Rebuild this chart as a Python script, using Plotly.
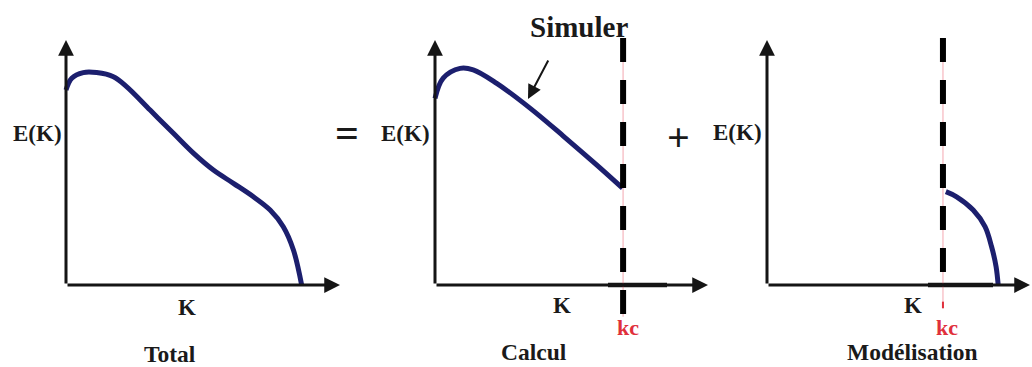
import plotly.graph_objects as go

# Spectre d'énergie E(K) : total = partie calculée (K < kc) + partie modélisée (K > kc)
# Unités arbitraires : l'extrémité de chaque axe vaut 10.

# Panneau "Total"
k_total = [0.0, 0.21, 0.63, 1.12, 1.73, 2.22, 3.07, 3.92, 4.65, 5.38, 6.11, 6.84, 7.45, 7.93, 8.30, 8.60]
e_total = [7.96, 8.44, 8.67, 8.67, 8.50, 8.09, 7.14, 6.19, 5.38, 4.69, 4.15, 3.60, 3.06, 2.38, 1.43, 0.0]

# Panneau "Calcul" (partie simulée, jusqu'à kc)
k_calcul = [0.0, 0.30, 0.92, 1.40, 2.26, 3.48, 4.70, 5.92, 6.87]
e_calcul = [7.62, 8.44, 8.84, 8.78, 8.23, 7.22, 6.08, 4.90, 3.95]
kc_calcul = 6.89

# Panneau "Modélisation" (au-delà de kc)
k_model = [6.80, 7.21, 7.84, 8.29, 8.54, 8.71, 8.79]
e_model = [3.81, 3.60, 3.06, 2.38, 1.56, 0.75, 0.0]
kc_model = 6.69

W, H = 1032, 367
CURVE = "#1c1f6e"
AXIS = "#151515"
TEXT = "#1a1a1a"
RED = "#e0303c"
SERIF = "Liberation Serif, Times New Roman, serif"

fig = go.Figure()
fig.add_trace(go.Scatter(x=k_total, y=e_total, xaxis="x", yaxis="y", mode="lines",
                         line=dict(color=CURVE, width=5, shape="spline", smoothing=1.0),
                         hoverinfo="skip"))
fig.add_trace(go.Scatter(x=k_calcul, y=e_calcul, xaxis="x2", yaxis="y2", mode="lines",
                         line=dict(color=CURVE, width=5, shape="spline", smoothing=1.0),
                         hoverinfo="skip"))
fig.add_trace(go.Scatter(x=k_model, y=e_model, xaxis="x3", yaxis="y3", mode="lines",
                         line=dict(color=CURVE, width=5, shape="spline", smoothing=1.0),
                         hoverinfo="skip"))

# placement des trois panneaux (pixels -> fraction de la page)
def dom(a, b):
    return [a / W, b / W]

y_range = [-82 / 24.5, 285 / 24.5]
hidden = dict(visible=False, fixedrange=True)
fig.update_layout(
    xaxis=dict(domain=dom(0, 350), range=[-66 / 27.4, 284 / 27.4], **hidden),
    xaxis2=dict(domain=dom(350, 712), range=[-85 / 27.3, 277 / 27.3], **hidden),
    xaxis3=dict(domain=dom(712, 1032), range=[-55 / 26.3, 265 / 26.3], **hidden),
    yaxis=dict(domain=[0, 1], range=y_range, anchor="x", **hidden),
    yaxis2=dict(domain=[0, 1], range=y_range, anchor="x2", **hidden),
    yaxis3=dict(domain=[0, 1], range=y_range, anchor="x3", **hidden),
)

annotations = []
# axes fléchés
for xa, ya in [("x", "y"), ("x2", "y2"), ("x3", "y3")]:
    for hx, hy in [(0, 10), (10, 0)]:
        annotations.append(dict(x=hx, y=hy, xref=xa, yref=ya, ax=0, ay=0, axref=xa, ayref=ya,
                                text="", showarrow=True, arrowhead=2, arrowsize=1.05,
                                arrowwidth=3, arrowcolor=AXIS, standoff=0, startstandoff=0))

shapes = []
# segments plus épais de l'axe K autour de kc
shapes.append(dict(type="line", xref="x2", yref="y2", x0=(608 - 435) / 27.3, x1=(667 - 435) / 27.3,
                   y0=0, y1=0, line=dict(color=AXIS, width=4.5)))
shapes.append(dict(type="line", xref="x3", yref="y3", x0=(928 - 767) / 26.3, x1=(993 - 767) / 26.3,
                   y0=0, y1=0, line=dict(color=AXIS, width=4.5)))
# repère kc : trait rouge fin sous les tirets noirs
for xa, ya, kc, bottom in [("x2", "y2", kc_calcul, -1.3), ("x3", "y3", kc_model, -0.95)]:
    shapes.append(dict(type="line", xref=xa, yref=ya, x0=kc, x1=kc, y0=10.08, y1=bottom,
                       line=dict(color="rgba(230,60,80,0.3)", width=1.5)))
shapes.append(dict(type="line", xref="x3", yref="y3", x0=kc_model, x1=kc_model, y0=-0.68, y1=-0.95,
                   line=dict(color=RED, width=2)))
# coupure kc en tirets
shapes.append(dict(type="line", xref="x2", yref="y2", x0=kc_calcul, x1=kc_calcul, y0=10.08, y1=-1.3,
                   line=dict(color="black", width=6, dash="24px,18px")))
shapes.append(dict(type="line", xref="x3", yref="y3", x0=kc_model, x1=kc_model, y0=10.08, y1=0.0,
                   line=dict(color="black", width=6, dash="24px,18px")))


def label(txt, px, py, size, color=TEXT):
    annotations.append(dict(text=txt, x=px / W, y=1 - py / H, xref="paper", yref="paper",
                            xanchor="center", yanchor="middle", showarrow=False,
                            font=dict(family=SERIF, size=size, color=color, weight="bold")))


label("E(K)", 37, 133, 23)
label("E(K)", 405, 133, 23)
label("E(K)", 737, 132, 23)
label("=", 347, 133, 42)
label("+", 678, 137, 40)
label("K", 187, 307, 23)
label("K", 562, 305, 23)
label("K", 913, 305, 23)
label("kc", 628, 327, 22, RED)
label("kc", 947, 327, 22, RED)
label("Total", 170, 354, 23.5)
label("Calcul", 534, 352, 23.5)
label("Modélisation", 912, 352, 23.5)
label("Simuler", 579, 27, 29)

# flèche vers la courbe simulée
annotations.append(dict(x=528 / W, y=1 - 99 / H, xref="paper", yref="paper", ax=21, ay=-40,
                        text="", showarrow=True, arrowhead=2, arrowsize=1.4, arrowwidth=2,
                        arrowcolor=AXIS, standoff=0))

fig.update_layout(
    width=W, height=H, margin=dict(l=0, r=0, t=0, b=0),
    paper_bgcolor="white", plot_bgcolor="white", showlegend=False,
    annotations=annotations, shapes=shapes,
)

fig.write_html("out.html", config={"displayModeBar": False})
